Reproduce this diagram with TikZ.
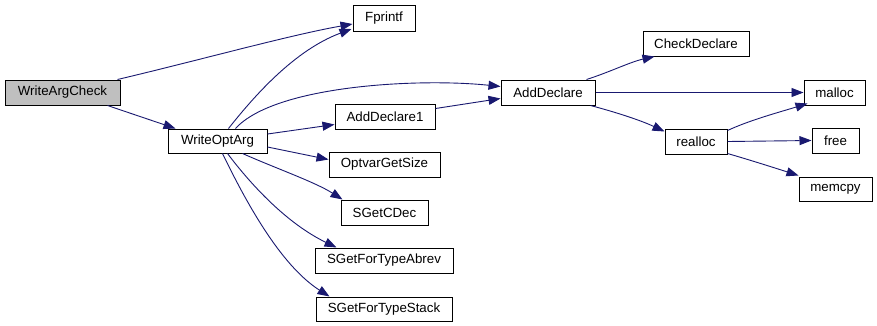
\documentclass[tikz,border=0pt]{standalone}
\usepackage{fontspec}
\setmainfont{Liberation Sans}
\usetikzlibrary{arrows.meta,calc}
\definecolor{navy}{HTML}{191970}
\definecolor{boxgray}{HTML}{BFBFBF}
\begin{document}
\begin{tikzpicture}[x=1pt,y=-1pt,
  box/.style={draw=black,line width=1pt,inner sep=0pt,font=\fontsize{13.3}{15}\selectfont,text=black},
  edge/.style={draw=navy,line width=0.9pt,-{Triangle[length=12pt,width=9pt]}}]
\fill[white] (0,0) rectangle (877,325);
\useasboundingbox (0,0) rectangle (877,325);
% nodes
\node[box,minimum width=115pt,minimum height=25pt,fill=boxgray] (wac) at (62.5,92.5) {WriteArgCheck};
\node[box,minimum width=62pt,minimum height=26pt] (fp) at (384,18) {Fprintf};
\node[box,minimum width=99pt,minimum height=24pt] (wo) at (217.5,141) {WriteOptArg};
\node[box,minimum width=100pt,minimum height=25pt] (ad1) at (385,116.5) {AddDeclare1};
\node[box,minimum width=111pt,minimum height=25pt] (ogs) at (384.5,164.5) {OptvarGetSize};
\node[box,minimum width=87pt,minimum height=25pt] (sgc) at (384.5,212.5) {SGetCDec};
\node[box,minimum width=138pt,minimum height=25pt] (sgta) at (384,260.5) {SGetForTypeAbrev};
\node[box,minimum width=136pt,minimum height=24pt] (sgts) at (384,309) {SGetForTypeStack};
\node[box,minimum width=94pt,minimum height=25pt] (ad) at (548,92.5) {AddDeclare};
\node[box,minimum width=106pt,minimum height=25pt] (cd) at (696,43.5) {CheckDeclare};
\node[box,minimum width=61pt,minimum height=25pt] (mal) at (834.5,92.5) {malloc};
\node[box,minimum width=62pt,minimum height=25pt] (rea) at (696,141.5) {realloc};
\node[box,minimum width=47pt,minimum height=25pt] (fr) at (835.5,140.5) {free};
\node[box,minimum width=73pt,minimum height=24pt] (mem) at (835.5,189) {memcpy};
% edges
\draw[edge] ($(wac.north east)+(-3,0)$) .. controls (200,60) and (290,35) .. ($(fp.west)+(0,6)$);
\draw[edge] ($(wac.south east)+(-13,0)$) -- ($(wo.north west)+(8,0)$);
\draw[edge] ($(wo.north west)+(61,0)$) .. controls (255,95) and (295,50) .. ($(fp.west)+(-1,11)$);
\draw[edge] ($(wo.north west)+(68,0)$) .. controls (275,85) and (420,78) .. ($(ad.west)+(0,-6)$);
\draw[edge] ($(wo.east)+(0,-7)$) -- ($(ad1.west)+(0,8)$);
\draw[edge] ($(wo.east)+(0,6)$) -- ($(ogs.west)+(0,-5)$);
\draw[edge] ($(wo.south east)+(-25,0)$) .. controls (275,168) and (315,182) .. ($(sgc.north west)+(2,0)$);
\draw[edge] ($(wo.south west)+(60,0)$) .. controls (255,190) and (290,225) .. ($(sgta.north west)+(22,0)$);
\draw[edge] ($(wo.south west)+(55,0)$) .. controls (245,200) and (280,265) .. ($(sgts.north west)+(14,0)$);
\draw[edge] ($(ad1.east)+(0,-8)$) -- ($(ad.west)+(0,6)$);
\draw[edge] ($(ad.north east)+(-9,0)$) .. controls (610,72) and (630,62) .. ($(cd.south west)+(12,0)$);
\draw[edge] (ad.east) -- (mal.west);
\draw[edge] ($(ad.south east)+(-5,0)$) .. controls (615,112) and (640,120) .. ($(rea.west)+(0,-10)$);
\draw[edge] ($(rea.north east)+(0,2)$) .. controls (750,120) and (780,112) .. ($(mal.south west)+(4,-2)$);
\draw[edge] (rea.east) -- (fr.west);
\draw[edge] ($(rea.south east)+(0,-1)$) .. controls (750,160) and (775,168) .. ($(mem.north west)+(0,-1)$);
\end{tikzpicture}
\end{document}
